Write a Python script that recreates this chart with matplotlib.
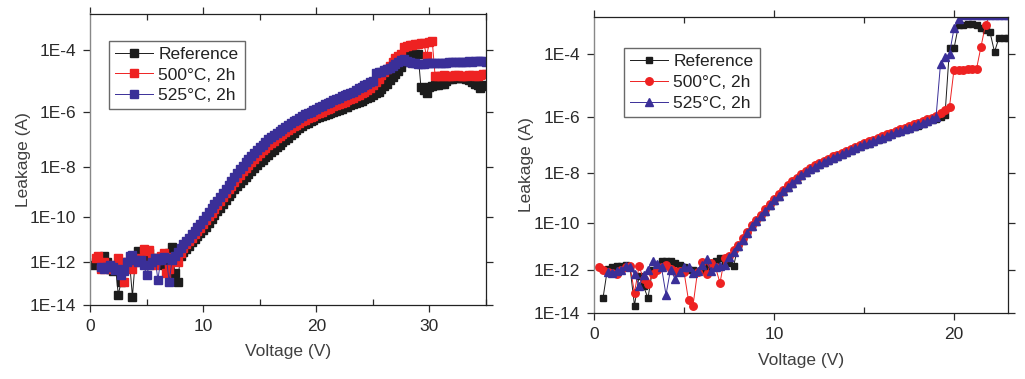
import numpy as np
import matplotlib
matplotlib.use("Agg")
import matplotlib.pyplot as plt
from matplotlib.ticker import FixedLocator, FuncFormatter

plt.rcParams['font.family'] = ['Liberation Sans', 'DejaVu Sans']

# ---------------- data (log10 of leakage current, A) ----------------
series_labels = ["Reference", "500\u00b0C, 2h", "525\u00b0C, 2h"]

# left panel: voltage sweep 0.25 .. 35 V, step 0.25 V
left_v = np.arange(1, 141) * 0.25
left_ref = [
    -12.1, -12.0, -11.9, -11.8, -11.7, -12.0, -12.3, -12.4,
    -12.2, -13.5, -12.9, -12.3, -12.1, -12.0, -13.6, -11.9,
    -11.5, -11.7, -11.8, -12.1, -11.6, -11.9, -11.8, -12.0,
    -11.9, -12.1, -11.8, -11.6, -11.3, -12.5, -12.9, -11.7,
    -11.55, -11.4, -11.25, -11.1, -10.98, -10.85, -10.72, -10.58,
    -10.42, -10.26, -10.10, -9.94, -9.78, -9.62, -9.46, -9.31,
    -9.16, -9.02, -8.88, -8.75, -8.62, -8.50, -8.38, -8.26,
    -8.14, -8.03, -7.92, -7.81, -7.71, -7.61, -7.52, -7.43,
    -7.34, -7.25, -7.16, -7.07, -6.98, -6.89, -6.80, -6.71,
    -6.63, -6.55, -6.47, -6.41, -6.36, -6.31, -6.26, -6.21,
    -6.17, -6.13, -6.09, -6.05, -6.01, -5.97, -5.94, -5.91,
    -5.87, -5.83, -5.80, -5.76, -5.72, -5.68, -5.64, -5.60,
    -5.56, -5.52, -5.48, -5.42, -5.36, -5.30, -5.22, -5.13,
    -5.04, -4.94, -4.84, -4.74, -4.64, -4.52, -4.38, -4.22,
    -4.16, -4.14, -4.12, -4.13, -5.16, -5.25, -5.35, -5.15,
    -5.12, -5.10, -5.08, -5.06, -5.04, -4.95, -4.90, -4.88,
    -4.87, -4.86, -4.86, -4.87, -4.88, -4.92, -5.00, -5.05,
    -5.08, -5.18, -5.12, -5.10,
]
left_500 = [
    np.nan, -11.8, -11.7, -12.3, -12.0, -12.2, -12.3, -12.1,
    -12.2, -11.8, -12.0, -12.9, -12.0, -12.2, -12.3, -12.0,
    -11.8, -11.9, -11.4, -11.5, -11.45, -11.8, -12.1, -11.9,
    -11.7, -11.6, -12.5, -12.3, -11.75, -11.8, -12.0, -11.6,
    -11.35, -11.2, -11.05, -10.9, -10.76, -10.62, -10.47, -10.32,
    -10.16, -9.99, -9.83, -9.67, -9.51, -9.35, -9.19, -9.04,
    -8.88, -8.73, -8.58, -8.43, -8.29, -8.16, -8.03, -7.91,
    -7.79, -7.68, -7.57, -7.46, -7.36, -7.26, -7.17, -7.08,
    -7.00, -6.92, -6.84, -6.77, -6.70, -6.63, -6.56, -6.49,
    -6.43, -6.37, -6.31, -6.26, -6.21, -6.16, -6.11, -6.06,
    -6.02, -5.97, -5.93, -5.88, -5.84, -5.79, -5.75, -5.71,
    -5.67, -5.63, -5.59, -5.55, -5.51, -5.46, -5.41, -5.36,
    -5.30, -5.24, -5.18, -5.10, -4.98, -4.88, -4.78, -4.68,
    -4.58, -4.48, -4.36, -4.25, -4.18, -4.12, -3.92, -3.88,
    -3.87, -3.86, -3.85, -3.83, -3.82, -3.81, -4.20, -3.77,
    -3.75, -4.79, -4.80, -4.79, -4.78, -4.79, -4.80, -4.79,
    -4.78, -4.78, -4.79, -4.80, -4.79, -4.78, -4.77, -4.80,
    -4.79, -4.76, -4.75, -4.74,
]
left_525 = [
    np.nan, np.nan, np.nan, -12.2, -12.3, -12.2, -12.1, -12.2,
    -12.35, -12.3, -12.6, -12.4, -12.0, -11.7, -11.65, -11.9,
    -12.0, -11.9, -12.1, -12.6, -12.1, -12.0, -11.8, -12.8,
    -11.9, -11.75, -11.8, -12.9, -11.9, -11.7, -11.55, -11.35,
    -11.2, -11.05, -10.9, -10.75, -10.6, -10.45, -10.3, -10.15,
    -9.98, -9.81, -9.65, -9.49, -9.33, -9.17, -9.01, -8.86,
    -8.70, -8.54, -8.38, -8.22, -8.08, -7.95, -7.82, -7.70,
    -7.58, -7.47, -7.36, -7.25, -7.15, -7.05, -6.96, -6.88,
    -6.80, -6.73, -6.66, -6.59, -6.52, -6.45, -6.38, -6.31,
    -6.25, -6.18, -6.12, -6.07, -6.02, -5.97, -5.92, -5.87,
    -5.82, -5.77, -5.72, -5.67, -5.63, -5.58, -5.54, -5.50,
    -5.46, -5.42, -5.38, -5.34, -5.30, -5.25, -5.20, -5.15,
    -5.10, -5.05, -5.00, -4.95, -4.72, -4.69, -4.66, -4.62,
    -4.59, -4.55, -4.48, -4.42, -4.36, -4.30, -4.27, -4.34,
    -4.38, -4.40, -4.41, -4.42, -4.42, -4.42, -4.41, -4.41,
    -4.41, -4.40, -4.40, -4.39, -4.40, -4.39, -4.38, -4.38,
    -4.37, -4.38, -4.37, -4.36, -4.36, -4.35, -4.36, -4.35,
    -4.34, -4.35, -4.34, -4.36,
]

# right panel: voltage sweep 0.25 .. 23 V, step 0.25 V
right_v = np.arange(1, 93) * 0.25
right_ref = [
    np.nan, -13.3, -11.95, -11.9, -11.85, -11.85, -11.8, -11.9,
    -13.65, -12.3, -12.75, -13.3, -12.0, -11.8, -11.6, -11.6,
    -11.6, -11.7, -11.8, -11.9, -12.0, -12.0, -12.05, -12.0,
    -11.9, -11.75, -11.6, -11.5, -11.6, -11.7, -11.85, -11.0,
    -10.74, -10.44, -10.16, -9.94, -9.74, -9.52, -9.31, -9.11,
    -8.92, -8.74, -8.56, -8.41, -8.27, -8.13, -8.01, -7.90,
    -7.80, -7.71, -7.63, -7.55, -7.47, -7.40, -7.33, -7.26,
    -7.19, -7.12, -7.05, -6.98, -6.92, -6.86, -6.80, -6.74,
    -6.67, -6.61, -6.55, -6.49, -6.44, -6.39, -6.33, -6.28,
    -6.22, -6.16, -6.10, -6.04, -5.98, -5.92, -3.85, -3.85,
    -3.22, -3.20, -3.18, -3.18, -3.20, -3.30, -3.35, -3.40,
    -3.95, -3.55, -3.55, -3.55,
]
right_500 = [
    -11.9, -12.0, -12.1, -12.15, -12.2, -12.0, -11.9, -11.85,
    -13.05, -11.85, -12.4, -12.65, -12.2, -12.0, -11.9, -11.8,
    -11.95, -12.05, -12.05, -12.1, -13.4, -13.65, -12.1, -11.65,
    -12.2, -11.7, -11.9, -12.6, -11.5, -11.4, -11.15, -10.9,
    -10.64, -10.35, -10.07, -9.85, -9.64, -9.43, -9.22, -9.02,
    -8.83, -8.65, -8.47, -8.32, -8.18, -8.04, -7.92, -7.81,
    -7.71, -7.62, -7.54, -7.46, -7.38, -7.31, -7.24, -7.17,
    -7.10, -7.03, -6.96, -6.89, -6.83, -6.77, -6.71, -6.65,
    -6.58, -6.52, -6.46, -6.40, -6.35, -6.30, -6.24, -6.19,
    -6.13, -6.07, -6.01, -5.95, -5.85, -5.75, -5.65, -4.47,
    -4.47, -4.47, -4.46, -4.46, -4.45, -3.80, -3.20, -2.95,
    -2.95, -2.95, -2.95, -2.95,
]
right_525 = [
    np.nan, np.nan, -12.1, -12.15, -12.05, -12.0, -11.85, -11.9,
    -12.2, -12.72, -12.26, -12.0, -11.6, -11.75, -11.9, -13.14,
    -12.0, -12.41, -12.1, -11.9, -11.9, -12.15, -12.05, -11.8,
    -11.52, -12.05, -11.9, -11.85, -11.8, -11.45, -11.2, -10.95,
    -10.7, -10.4, -10.12, -9.9, -9.7, -9.48, -9.27, -9.07,
    -8.88, -8.70, -8.52, -8.37, -8.23, -8.09, -7.97, -7.86,
    -7.76, -7.67, -7.59, -7.51, -7.43, -7.36, -7.29, -7.22,
    -7.15, -7.08, -7.01, -6.94, -6.88, -6.82, -6.76, -6.70,
    -6.63, -6.57, -6.51, -6.45, -6.40, -6.35, -6.29, -6.24,
    -6.18, -6.12, -6.06, -6.00, -4.30, -4.10, -4.00, -3.30,
    -3.05, -2.95, -2.95, -2.95, -2.95, -2.95, -2.95, -2.95,
    -2.95, -2.95, -2.95, -2.95,
]

y_ticks = [1e-14, 1e-12, 1e-10, 1e-8, 1e-6, 1e-4]

# ---------------- styling ----------------
C_BLACK = '#1c1c1c'
C_RED = '#ee2222'
C_BLUE = '#3a2f98'
TXT = '#2a2a2a'


def fwd(y):
    y = np.asarray(y, dtype=float)
    u = -np.log10(np.clip(y, 1e-300, 0.99))
    return -np.power(u, 0.6)


def inv(v):
    v = np.asarray(v, dtype=float)
    return 10.0 ** (-np.power(np.clip(-v, 1e-6, None), 1.0 / 0.6))


def style_axes(ax, xmax, xmajor, xminor):
    ax.set_yscale('function', functions=(fwd, inv))
    ax.set_ylim(1e-14, 1e-3)
    ax.set_xlim(0, xmax)
    ax.yaxis.set_major_locator(FixedLocator(y_ticks))
    ax.yaxis.set_minor_locator(FixedLocator([]))
    ax.yaxis.set_major_formatter(FuncFormatter(lambda v, p: "1E%d" % int(round(np.log10(v)))))
    ax.xaxis.set_major_locator(FixedLocator(xmajor))
    ax.xaxis.set_minor_locator(FixedLocator(xminor))
    ax.tick_params(axis='both', which='major', labelsize=12.5, colors=TXT,
                   length=5, width=0.9, direction='out', top=True, right=True, pad=5)
    ax.tick_params(axis='x', which='minor', length=4, width=0.9, direction='in',
                   top=True, bottom=True, colors=TXT)
    for s in ['top', 'right', 'bottom']:
        ax.spines[s].set_color('#222222')
        ax.spines[s].set_linewidth(0.9)
    ax.spines['left'].set_color('#888888')
    ax.spines['left'].set_linewidth(1.0)
    ax.set_xlabel("Voltage (V)", fontsize=12.5, color='#404040')
    ax.set_ylabel("Leakage (A)", fontsize=12.5, color='#404040')


def add_legend(ax, anchor):
    leg = ax.legend(loc='upper left', bbox_to_anchor=anchor, borderaxespad=0,
                    fontsize=12.5, frameon=True, fancybox=False, numpoints=1,
                    handlelength=2.2, handletextpad=0.3, labelspacing=0.32,
                    borderpad=0.35)
    leg.get_frame().set_edgecolor('#444444')
    leg.get_frame().set_linewidth(1.0)
    for t in leg.get_texts():
        t.set_color('#222222')
    return leg


fig = plt.figure(figsize=(10.25, 3.79), dpi=100)
lw = 0.7

# ---------- left panel ----------
axL = fig.add_axes([90 / 1025, (379 - 305) / 379, 396 / 1025, 291.5 / 379])
axL.plot(left_v, 10.0 ** np.array(left_ref), color=C_BLACK, lw=lw, marker='s', ms=5.1,
         mec=C_BLACK, mfc=C_BLACK, label=series_labels[0])
axL.plot(left_v, 10.0 ** np.array(left_500), color=C_RED, lw=lw, marker='s', ms=5.1,
         mec=C_RED, mfc=C_RED, label=series_labels[1])
axL.plot(left_v, 10.0 ** np.array(left_525), color=C_BLUE, lw=lw, marker='s', ms=5.1,
         mec=C_BLUE, mfc=C_BLUE, label=series_labels[2])
style_axes(axL, 35, [0, 10, 20, 30], [5, 15, 25, 35])
axL.xaxis.set_label_coords(0.5, -0.135)
axL.yaxis.set_label_coords(-0.15, 0.5)
add_legend(axL, (0.048, 0.907))

# ---------- right panel ----------
axR = fig.add_axes([594 / 1025, (379 - 313) / 379, 414 / 1025, 296 / 379])
axR.plot(right_v, 10.0 ** np.array(right_ref), color=C_BLACK, lw=lw, marker='s', ms=3.9,
         mec=C_BLACK, mfc=C_BLACK, label=series_labels[0])
axR.plot(right_v, 10.0 ** np.array(right_500), color=C_RED, lw=lw, marker='o', ms=5.4,
         mec=C_RED, mfc=C_RED, label=series_labels[1])
axR.plot(right_v, 10.0 ** np.array(right_525), color=C_BLUE, lw=lw, marker='^', ms=5.6,
         mec=C_BLUE, mfc=C_BLUE, label=series_labels[2])
style_axes(axR, 23, [0, 10, 20], [5, 15])
axR.xaxis.set_label_coords(0.5, -0.135)
axR.yaxis.set_label_coords(-0.145, 0.5)
add_legend(axR, (0.0725, 0.895))

fig.savefig("out.png", dpi=100)
